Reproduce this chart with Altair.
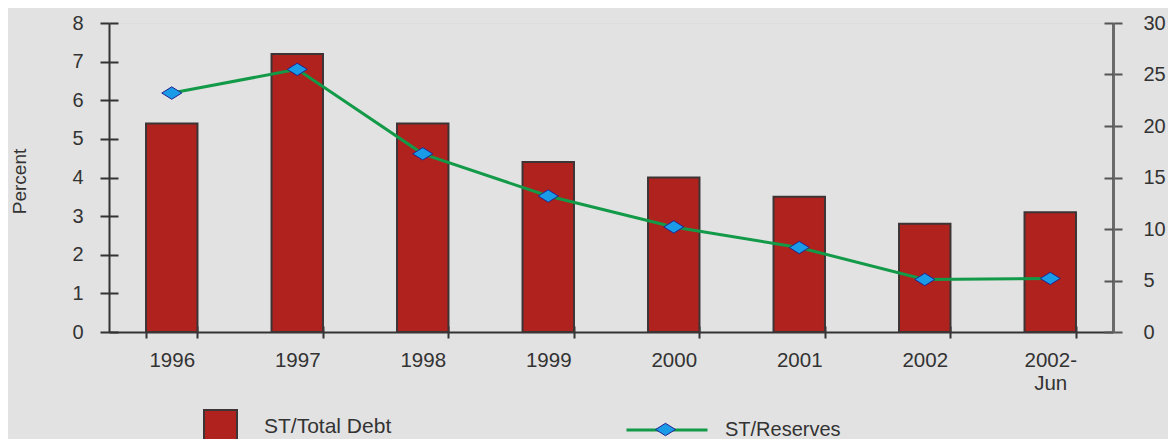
import altair as alt
import pandas as pd

years = ["1996", "1997", "1998", "1999", "2000", "2001", "2002", "2002-Jun"]
st_total_debt = [5.4, 7.2, 5.4, 4.4, 4.0, 3.5, 2.8, 3.1]
st_reserves = [23.2, 25.5, 17.3, 13.2, 10.2, 8.2, 5.1, 5.2]
left_ticks = [0, 1, 2, 3, 4, 5, 6, 7, 8]
right_ticks = [0, 5, 10, 15, 20, 25, 30]

df = pd.DataFrame({
    "year": years,
    "debt": st_total_debt,
    "res": st_reserves,
    "b": ["ST/Total Debt"] * len(years),
    "s": ["ST/Reserves"] * len(years),
    "p": ["marker"] * len(years),
})

FONT = "Liberation Sans"
TXT = "#333333"
DIAMOND = "M-1,0L0,-0.62L1,0L0,0.62Z"

xscale = alt.Scale(paddingInner=0.59, paddingOuter=0.295)
left_scale = alt.Scale(domain=[0, 8], nice=False, zero=True)
right_scale = alt.Scale(domain=[0, 30], nice=False, zero=True)

bars = alt.Chart(df).mark_bar(stroke="#3d3535", strokeWidth=2).encode(
    x=alt.X("year:N", sort=years, scale=xscale,
            axis=alt.Axis(orient="bottom", title=None, labelFont=FONT, labelFontSize=20.5,
                          labelColor=TXT, labelPadding=12, labelAngle=0,
                          labelExpr="datum.value == '2002-Jun' ? ['2002-', 'Jun'] : datum.value",
                          labelLineHeight=23, domainColor="#333", domainWidth=2,
                          tickColor="#333", tickWidth=2, tickSize=6, tickBand="extent",
                          grid=False)),
    y=alt.Y("debt:Q", scale=left_scale,
            axis=alt.Axis(orient="left", values=left_ticks, title="Percent",
                          titleFont=FONT, titleFontSize=19, titleFontWeight="normal",
                          titleColor=TXT, titleX=-90, titleY=158, titleAngle=270,
                          titleAlign="center", titleBaseline="middle",
                          labelFont=FONT, labelFontSize=20, labelColor=TXT, labelPadding=17,
                          domainColor="#333", domainWidth=2, tickColor="#333",
                          tickWidth=2, tickSize=9, grid=False)),
    color=alt.Color("b:N", scale=alt.Scale(domain=["ST/Total Debt"], range=["#b0221e"]),
                    legend=alt.Legend(orient="none", legendX=94, legendY=386, title=None,
                                      symbolType="square", symbolSize=1089,
                                      symbolStrokeColor="#3d3535", symbolStrokeWidth=2,
                                      labelFont=FONT, labelFontSize=21, labelColor=TXT,
                                      labelOffset=26)),
)

ticks_left = alt.Chart(df).mark_bar(opacity=0).encode(
    x=alt.X("year:N", sort=years, scale=xscale,
            axis=alt.Axis(orient="bottom", title=None, labels=False, domain=False,
                          tickBand="extent", tickSize=6, tickWidth=2, tickColor="#333",
                          offset=-6, grid=False)),
    y=alt.Y("debt:Q", scale=left_scale,
            axis=alt.Axis(orient="left", values=left_ticks, labels=False, domain=False,
                          tickSize=9, tickWidth=2, tickColor="#333", offset=-9,
                          title=None, grid=False)),
)

y_res = alt.Y("res:Q", scale=right_scale,
              axis=alt.Axis(orient="right", values=right_ticks, title=None,
                            labelFont=FONT, labelFontSize=20, labelColor=TXT, labelPadding=21,
                            domainColor="#6a6a6a", domainWidth=3, tickColor="#555",
                            tickWidth=2, tickSize=9, grid=False))
x_none = alt.X("year:N", sort=years, scale=xscale, axis=None)

line = alt.Chart(df).mark_line(strokeWidth=3).encode(
    x=x_none, y=y_res,
    stroke=alt.Stroke("s:N", scale=alt.Scale(domain=["ST/Reserves"], range=["#129a48"]),
                      legend=alt.Legend(orient="none", legendX=516, legendY=365, title=None,
                                        symbolType="stroke", symbolSize=6561,
                                        symbolStrokeWidth=3,
                                        labelFont=FONT, labelFontSize=20, labelColor=TXT,
                                        labelOffset=16)),
)

points = alt.Chart(df).mark_point(filled=True, shape=DIAMOND, size=400, stroke="#23238e",
                                  strokeWidth=1, opacity=1).encode(
    x=x_none, y=y_res,
    fill=alt.Fill("p:N", scale=alt.Scale(domain=["marker"], range=["#1a9be8"]),
                  legend=alt.Legend(orient="none", legendX=546, legendY=396, title=None,
                                    symbolType=DIAMOND, symbolSize=400,
                                    symbolStrokeColor="#23238e", symbolStrokeWidth=1,
                                    labelExpr="''", labelFontSize=1)),
)

ticks_right = alt.Chart(df).mark_line(opacity=0).encode(
    x=x_none,
    y=alt.Y("res:Q", scale=right_scale,
            axis=alt.Axis(orient="right", values=right_ticks, labels=False, domain=False,
                          tickSize=9, tickWidth=2, tickColor="#555", offset=-9,
                          title=None, grid=False)),
)

chart = alt.layer(
    bars, ticks_left, alt.layer(line, points), ticks_right
).resolve_scale(y="independent").resolve_axis(x="independent").properties(
    width=1004, height=309, autosize="none",
    padding={"left": 101, "top": 15, "right": 55, "bottom": 107},
    background="#e2e2e2",
).configure_view(stroke=None).configure(font=FONT)

chart.save("out.html", embed_options={"renderer": "svg", "actions": False})
